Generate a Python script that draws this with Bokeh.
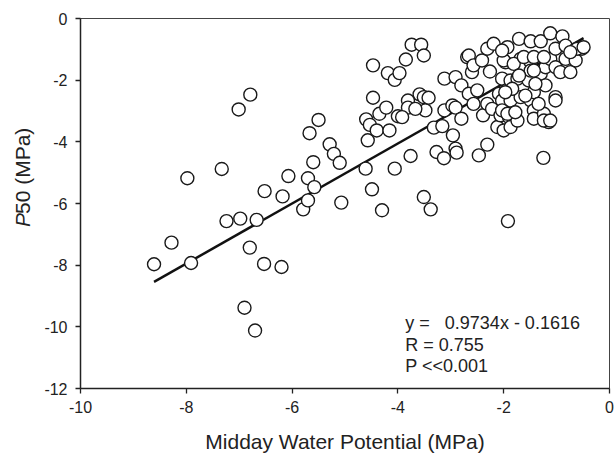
import math
from bokeh.plotting import figure
from bokeh.models import Range1d, FixedTicker, Label
from bokeh.layouts import row
from bokeh.core.properties import value
from bokeh.embed import file_html
from bokeh.resources import INLINE

# Data
midday_wp = [
    -8.61, -8.28, -7.91, -7.98, -7.33, -7.24, -7.01, -6.98, -6.90, -6.80,
    -6.79, -6.70, -6.67, -6.53, -6.52, -6.20, -6.18, -6.07, -5.79, -5.70,
    -5.70, -5.67, -5.60, -5.58, -5.50,
    -5.29, -5.21, -5.10, -5.07, -4.61, -4.60, -4.57, -4.53, -4.49, -4.47,
    -4.47, -4.40, -4.35, -4.30, -4.22, -4.19, -4.16, -4.06, -4.06, -4.00,
    -3.97, -3.85, -3.81, -3.81, -3.76, -3.74, -3.59, -3.56, -3.51, -3.51,
    -3.51, -3.48, -3.42, -3.38, -3.32, -3.27, -3.16, -3.13, -3.12, -3.12,
    -2.97, -2.96, -2.91, -2.91, -2.91, -2.89, -2.80, -2.80, -2.69, -2.66,
    -2.66, -2.60, -2.57, -2.57, -2.50, -2.47, -2.41, -2.39, -2.31, -2.31,
    -2.31, -2.26, -2.22, -2.19, -2.12, -2.09, -2.06, -2.03, -2.03, -2.00,
    -1.97, -1.93, -1.93, -1.92, -1.90, -1.87, -1.87, -1.87, -1.74, -1.74,
    -1.71, -1.68, -1.68, -1.62, -1.53, -1.49, -1.49, -1.49, -1.49, -1.43,
    -1.43, -1.43, -1.30, -1.30, -1.25, -1.24, -1.21, -1.21, -1.15, -1.12,
    -1.12, -1.02, -1.02, -1.02, -1.02, -0.93, -0.89, -0.83, -0.83, -0.74,
    -0.67, -0.64, -0.52,
    -2.00, -1.81, -1.62, -1.43, -1.24, -0.61, -0.49, -0.74, -1.43, -1.71,
    -1.40, -1.84, -1.97, -1.59, -1.34, -2.03, -1.93, -1.78, -1.24, -1.12,
    -3.67, -3.92, -2.03,
]
p50 = [
    -7.97, -7.27, -7.93, -5.18, -4.88, -6.57, -2.95, -6.49, -9.38, -7.43,
    -2.47, -10.12, -6.53, -7.96, -5.60, -8.06, -5.77, -5.11, -6.19, -5.90,
    -5.18, -3.72, -4.66, -5.47, -3.29,
    -4.08, -4.39, -4.68, -5.97, -4.87, -3.27, -3.95, -3.45, -5.54, -1.52,
    -2.57, -3.63, -3.09, -6.22, -2.89, -1.77, -3.63, -1.99, -4.87, -3.17,
    -1.77, -1.33, -2.66, -2.89, -4.46, -0.85, -2.46, -0.85, -1.20, -2.55,
    -5.79, -2.98, -2.57, -6.19, -3.54, -4.33, -3.49, -4.53, -1.95, -2.98,
    -2.82, -3.79, -1.90, -2.89, -4.22, -4.35, -2.17, -3.25, -1.25, -1.20,
    -2.44, -1.74, -1.52, -2.77, -2.33, -4.44, -1.36, -3.14, -0.98, -2.77,
    -4.09, -1.72, -2.93, -0.82, -3.52, -2.44, -3.14, -1.95, -2.66, -3.63,
    -1.42, -0.93, -2.31, -6.57, -3.20, -2.01, -2.66, -3.52, -1.95, -3.31,
    -0.66, -1.31, -2.55, -1.58, -2.01, -0.74, -1.42, -1.69, -2.66, -2.39,
    -2.98, -3.25, -0.74, -1.79, -4.52, -3.09, -1.58, -2.17, -3.36, -0.48,
    -1.31, -0.98, -1.58, -2.55, -2.66, -1.74, -0.58, -0.88, -1.31, -1.74,
    -1.04, -1.36, -0.98,
    -1.36, -1.47, -1.25, -1.25, -1.25, -0.98, -0.93, -1.09, -1.69, -1.85,
    -2.12, -2.28, -2.39, -2.50, -2.77, -2.98, -3.09, -3.04, -3.31, -3.31,
    -2.93, -3.20, -1.04,
]

slope = 0.9734
intercept = -0.1616
stats_lines = ["y = \u00a0 0.9734x - 0.1616", "R = 0.755", "P <<0.001"]
x_ticks = [-10, -8, -6, -4, -2, 0]
y_ticks = [0, -2, -4, -6, -8, -10, -12]

FONT = "Liberation Sans"
INK = "#222222"
LABEL_W = 36

p = figure(width=615 - LABEL_W, height=456, x_range=Range1d(-10, 0), y_range=Range1d(-12, 0),
           output_backend="svg", toolbar_location=None,
           min_border_left=80 - LABEL_W, min_border_right=6, min_border_top=18, min_border_bottom=68)
p.background_fill_color = "white"
p.border_fill_color = "white"
p.outline_line_color = "#444444"
p.outline_line_width = 1
p.xgrid.visible = False
p.ygrid.visible = False

for ax in (p.xaxis[0], p.yaxis[0]):
    ax.minor_tick_line_color = None
    ax.major_tick_in = 0
    ax.major_tick_out = 5
    ax.major_tick_line_color = INK
    ax.major_tick_line_width = 1.3
    ax.axis_line_color = INK
    ax.axis_line_width = 1.5
    ax.major_label_text_font = FONT
    ax.major_label_text_font_size = "16px"
    ax.major_label_text_color = INK

p.xaxis.ticker = FixedTicker(ticks=x_ticks)
p.yaxis.ticker = FixedTicker(ticks=y_ticks)
p.xaxis.major_label_overrides = {t: str(t) for t in x_ticks}
p.yaxis.major_label_overrides = {t: str(t) for t in y_ticks}
p.xaxis.major_label_standoff = 7
p.yaxis.major_label_standoff = 8
p.xaxis.axis_label = "Midday Water Potential (MPa)"
p.xaxis.axis_label_text_font = FONT
p.xaxis.axis_label_text_font_size = "21px"
p.xaxis.axis_label_text_font_style = "normal"
p.xaxis.axis_label_text_color = INK
p.xaxis.axis_label_standoff = 14

# regression line across the data's x extent
lx = [min(midday_wp), max(midday_wp)]
ly = [slope * v + intercept for v in lx]
p.line(lx, ly, line_color="#111111", line_width=2.5)

p.scatter(midday_wp, p50, marker="circle", size=13, fill_color="white",
          line_color="#1a1a1a", line_width=1.4)

for i, t in enumerate(stats_lines):
    p.add_layout(Label(x=-3.86, y=-9.88 - 0.70 * i, text=t, text_font=FONT,
                       text_font_size="18px", text_color=INK,
                       text_align="left", text_baseline="middle"))

# narrow panel holding the y-axis title (italic P + "50 (MPa)")
lab = figure(width=LABEL_W, height=456, x_range=Range1d(0, LABEL_W), y_range=Range1d(0, 456),
             output_backend="svg", toolbar_location=None, x_axis_type=None, y_axis_type=None,
             min_border=0)
lab.outline_line_color = None
lab.background_fill_color = "white"
lab.border_fill_color = "white"
lab.text(x=[22], y=[456 - 257], text=["P"], angle=math.pi / 2,
         text_font=value(FONT), text_font_size="21px", text_font_style="italic",
         text_color=INK, text_align="left", text_baseline="middle")
lab.text(x=[22], y=[456 - 241], text=["50 (MPa)"], angle=math.pi / 2,
         text_font=value(FONT), text_font_size="21px",
         text_color=INK, text_align="left", text_baseline="middle")

layout = row(lab, p)
open("out.html", "w").write(file_html(layout, INLINE))
